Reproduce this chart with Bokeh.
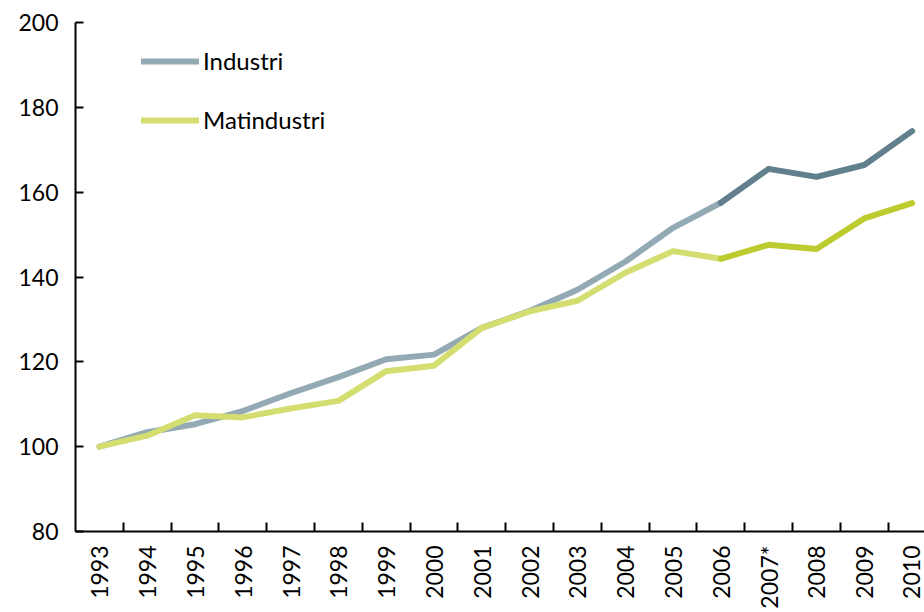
import math
from bokeh.plotting import figure
from bokeh.models import FixedTicker, Legend, LegendItem, Range1d
from bokeh.embed import file_html
from bokeh.resources import INLINE

years = ["1993", "1994", "1995", "1996", "1997", "1998", "1999", "2000", "2001",
         "2002", "2003", "2004", "2005", "2006", "2007*", "2008", "2009", "2010"]
industri = [100.0, 103.4, 105.3, 108.4, 112.6, 116.4, 120.6, 121.7, 128.0,
            132.0, 137.0, 143.6, 151.6, 157.5, 165.5, 163.6, 166.4, 174.4]
matindustri = [100.0, 102.6, 107.4, 106.9, 109.0, 110.8, 117.8, 119.1, 128.0,
               131.9, 134.4, 141.0, 146.1, 144.3, 147.6, 146.6, 153.8, 157.4]
split_year = "2006"
y_ticks = [80, 100, 120, 140, 160, 180, 200]

FONT = "Lato"
x = list(range(len(years)))
k = years.index(split_year)

p = figure(width=924, height=612, output_backend="svg", toolbar_location=None,
           x_range=Range1d(-0.5, 17.26), y_range=Range1d(80, 200),
           min_border_left=75, min_border_top=22, min_border_bottom=81,
           min_border_right=0)
p.outline_line_color = None
p.xgrid.visible = False
p.ygrid.visible = False
p.background_fill_color = "white"

c_ind_l, c_ind_d = "#93AAB4", "#627F8E"
c_mat_l, c_mat_d = "#D4DE70", "#BCCB2E"
lw = 6

r1 = p.line(x[:k + 1], industri[:k + 1], line_color=c_ind_l, line_width=lw,
            line_cap="round", line_join="round")
p.line(x[k:], industri[k:], line_color=c_ind_d, line_width=lw,
       line_cap="round", line_join="round")
r2 = p.line(x[:k + 1], matindustri[:k + 1], line_color=c_mat_l, line_width=lw,
            line_cap="round", line_join="round")
p.line(x[k:], matindustri[k:], line_color=c_mat_d, line_width=lw,
       line_cap="round", line_join="round")

# x axis
xa = p.xaxis[0]
xa.ticker = FixedTicker(ticks=x, minor_ticks=[i + 0.5 for i in x[:-1]])
xa.major_label_overrides = {i: years[i] for i in x}
xa.major_label_orientation = math.pi / 2
xa.major_tick_in = 0
xa.major_tick_out = 0
xa.minor_tick_in = 9
xa.minor_tick_out = 0
xa.minor_tick_line_color = "black"
xa.minor_tick_line_width = 2
xa.axis_line_width = 2
xa.axis_line_color = "black"
xa.major_label_text_font = FONT
xa.major_label_text_font_size = "23px"
xa.major_label_text_color = "black"
xa.major_label_standoff = 14

ya = p.yaxis[0]
ya.ticker = FixedTicker(ticks=y_ticks, minor_ticks=[])
ya.major_tick_in = 8
ya.major_tick_out = 0
ya.major_tick_line_width = 2
ya.major_tick_line_color = "black"
ya.axis_line_width = 2
ya.axis_line_color = "black"
ya.major_label_text_font = FONT
ya.major_label_text_font_size = "23px"
ya.major_label_text_color = "black"
ya.major_label_standoff = 17

legend = Legend(items=[LegendItem(label="Industri", renderers=[r1]),
                       LegendItem(label="Matindustri", renderers=[r2])],
                location=(66, 397), orientation="vertical")
legend.padding = 0
legend.margin = 0
legend.spacing = 30
legend.glyph_width = 58
legend.glyph_height = 20
legend.label_height = 20
legend.label_standoff = 4
legend.label_text_font = FONT
legend.label_text_font_size = "24px"
legend.label_text_color = "black"
legend.border_line_color = None
legend.background_fill_alpha = 0
p.add_layout(legend)

open("out.html", "w").write(file_html(p, INLINE))
